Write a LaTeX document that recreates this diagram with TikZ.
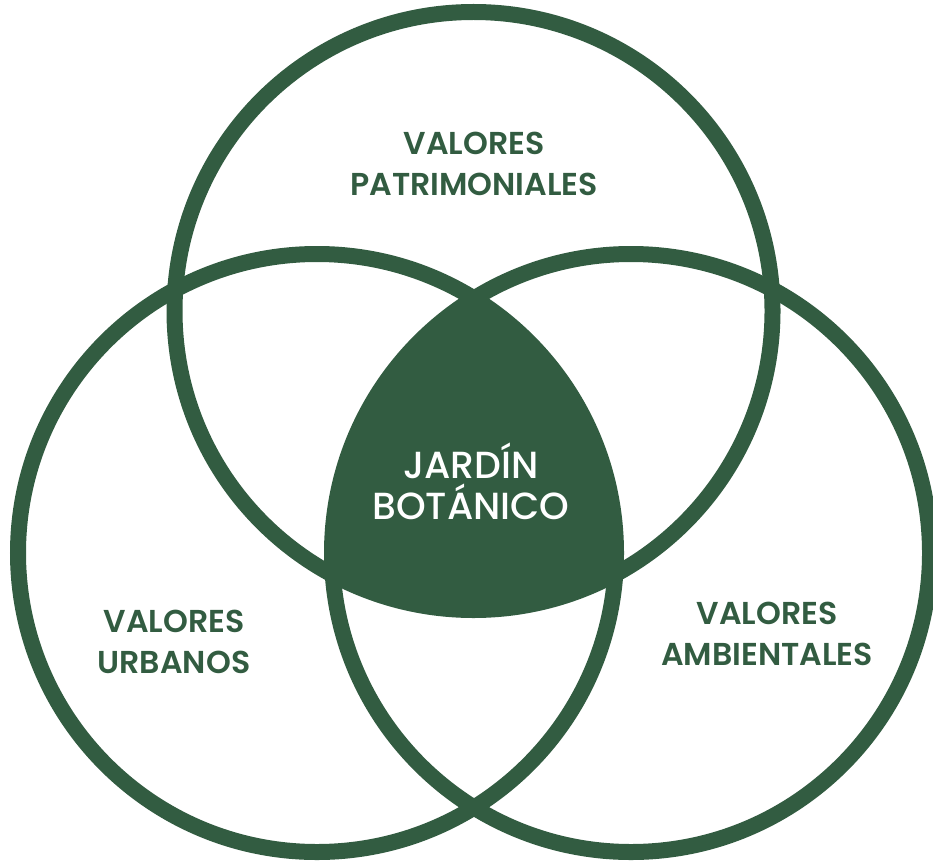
\documentclass[tikz,border=0pt]{standalone}
\usepackage{fontspec}
\setmainfont{Poppins}[BoldFont=Poppins SemiBold]
\newfontfamily\midfont{Poppins Medium}
\usetikzlibrary{positioning}
\definecolor{leafgreen}{RGB}{50, 92, 65}

\tikzset{
  ring/.style={draw=leafgreen, line width=0.32cm},
  valuelabel/.style={leafgreen, font=\bfseries\fontsize{18}{23}\selectfont, align=center},
  corelabel/.style={white, font=\midfont\fontsize{21.5}{23.5}\selectfont, align=center}
}

\begin{document}
\begin{tikzpicture}
    \useasboundingbox (0,0) rectangle (18.66,17.22);

    % Centres of the three circles
    \coordinate (top) at (9.47, 11.0);
    \coordinate (left) at (6.34, 6.16);
    \coordinate (right) at (12.62, 6.16);

    % Shared area of all three circles (filled)
    \begin{scope}
        \clip (top) circle (5.98);
        \clip (left) circle (5.98);
        \fill[leafgreen] (right) circle (5.98);
    \end{scope}

    % The three rings
    \draw[ring] (top) circle (5.98);
    \draw[ring] (left) circle (5.98);
    \draw[ring] (right) circle (5.98);

    % Labels
    \node[valuelabel] (patrimonial) at (9.48, 13.94) {VALORES\\PATRIMONIALES};
    \node[valuelabel] (urban) at (3.48, 4.38) {VALORES\\URBANOS};
    \node[valuelabel] (ambient) at (15.34, 4.54) {VALORES\\AMBIENTALES};
    \node[corelabel] (garden) at (9.42, 7.6) {JARDÍN\\BOTÁNICO};

\end{tikzpicture}
\end{document}
